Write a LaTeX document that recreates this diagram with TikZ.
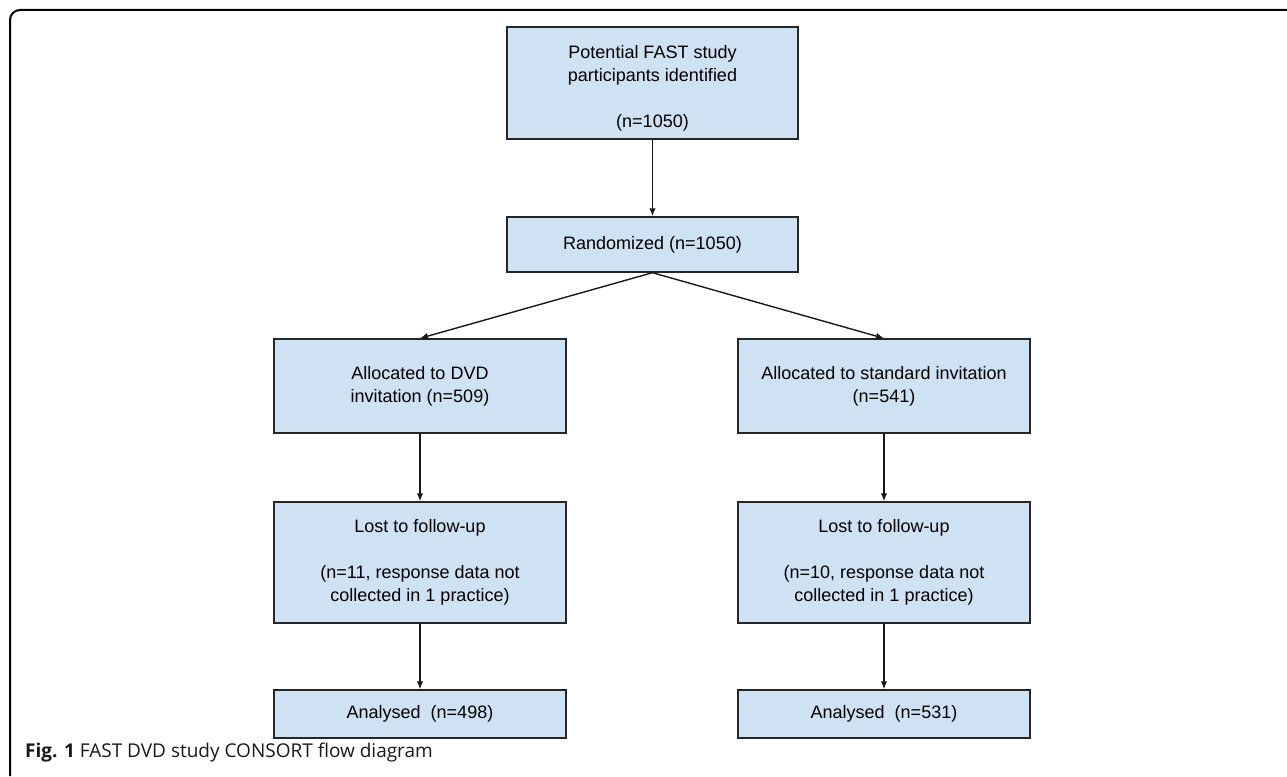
\documentclass[tikz,border=0pt]{standalone}
\usepackage{fontspec}
\setmainfont{Liberation Sans}
\newfontfamily\capfont{Open Sans}
\usetikzlibrary{arrows.meta}
\definecolor{boxfill}{HTML}{CFE2F3}
\tikzset{
  flowbox/.style={draw=black!85, line width=1.4pt, fill=boxfill, inner sep=0pt,
    align=center, font=\fontsize{18}{23}\selectfont},
  flowarrow/.style={draw=black!90, line width=1.4pt, -{Latex[length=8pt,width=6.5pt]}},
}
\begin{document}
\begin{tikzpicture}[x=1pt,y=-1pt]
\useasboundingbox (0,0) rectangle (1287,776);
% outer frame
\draw[line width=2pt, rounded corners=10pt] (1287,10) -- (10,10) -- (10,776);
% nodes
\node[flowbox, minimum width=291pt, minimum height=112pt] (pot) at (652.5,83)
  {\rule{0pt}{23pt}Potential FAST study\\participants identified\\~\\(n=1050)};
\node[flowbox, minimum width=291pt, minimum height=55pt] (rand) at (652.5,244.5)
  {Randomized (n=1050)};
\node[flowbox, minimum width=292pt, minimum height=94pt] (allocL) at (420,386)
  {Allocated to DVD\\invitation (n=509)};
\node[flowbox, minimum width=292pt, minimum height=94pt] (allocR) at (884,386)
  {Allocated to standard invitation\\(n=541)};
\node[flowbox, minimum width=292pt, minimum height=121pt] (lostL) at (420,562.5)
  {Lost to follow-up\\~\\(n=11, response data not\\collected in 1 practice)};
\node[flowbox, minimum width=292pt, minimum height=121pt] (lostR) at (884,562.5)
  {Lost to follow-up\\~\\(n=10, response data not\\collected in 1 practice)};
\node[flowbox, minimum width=292pt, minimum height=48pt] (anaL) at (420,714)
  {Analysed\ \ (n=498)};
\node[flowbox, minimum width=292pt, minimum height=48pt] (anaR) at (884,714)
  {Analysed\ \ (n=531)};
% connectors
\draw[flowarrow] (pot.south) -- (rand.north);
\draw[flowarrow] (rand.south) -- (allocL.north);
\draw[flowarrow] (rand.south) -- (allocR.north);
\draw[flowarrow] (allocL.south) -- (lostL.north);
\draw[flowarrow] (allocR.south) -- (lostR.north);
\draw[flowarrow] (lostL.south) -- (anaL.north);
\draw[flowarrow] (lostR.south) -- (anaR.north);
% caption
\node[anchor=west, inner sep=0pt, text=black!90, font=\capfont\fontsize{19}{22}\selectfont] (cap) at (25,753)
  {\textbf{Fig. 1} FAST DVD study CONSORT flow diagram};
\end{tikzpicture}
\end{document}
